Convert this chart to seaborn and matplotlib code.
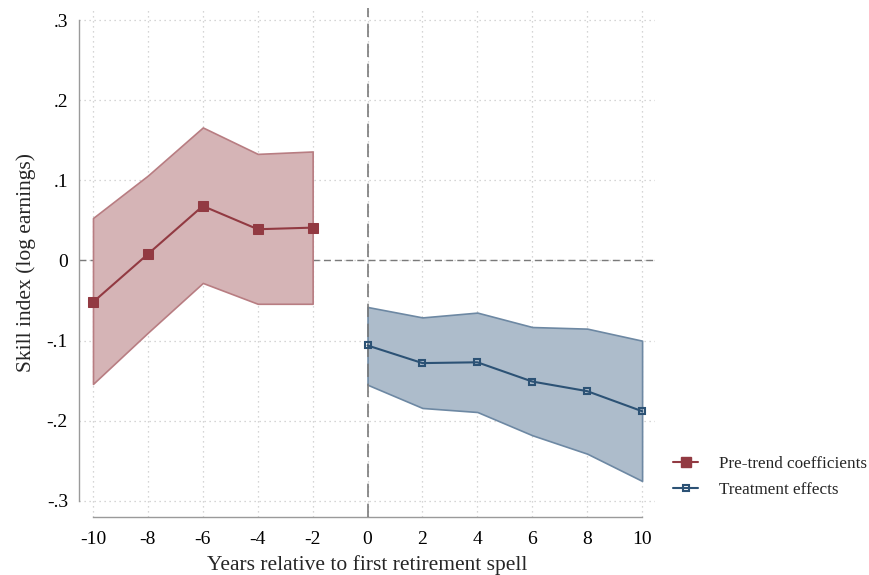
import numpy as np
import pandas as pd
import seaborn as sns
import matplotlib.pyplot as plt
from matplotlib.lines import Line2D

# Datos (estudio de eventos)
anios_pre = [-10, -8, -6, -4, -2]
coef_pre = [-0.052, 0.008, 0.068, 0.039, 0.041]
sup_pre = [0.053, 0.106, 0.166, 0.133, 0.136]
inf_pre = [-0.154, -0.090, -0.028, -0.054, -0.054]

anios_post = [0, 2, 4, 6, 8, 10]
coef_post = [-0.106, -0.128, -0.127, -0.151, -0.163, -0.188]
sup_post = [-0.058, -0.071, -0.065, -0.083, -0.085, -0.100]
inf_post = [-0.155, -0.184, -0.189, -0.218, -0.241, -0.275]

xticks = list(range(-10, 11, 2))
yticks = [-0.3, -0.2, -0.1, 0.0, 0.1, 0.2, 0.3]
ylabels = ["-.3", "-.2", "-.1", "0", ".1", ".2", ".3"]

rojo = "#923a42"
rojo_fill = "#d5b4b6"
azul = "#2c5275"
azul_fill = "#adbccb"
gris = "#9a9a9a"

df_pre = pd.DataFrame({"anio": anios_pre, "coef": coef_pre})
df_post = pd.DataFrame({"anio": anios_post, "coef": coef_post})

sns.set_style("white")
plt.rcParams["font.family"] = ["Liberation Serif", "DejaVu Serif"]

fig = plt.figure(figsize=(8.7, 5.75), dpi=100)
ax = fig.add_axes([79 / 870, 1 - 517 / 575, (655 - 79) / 870, (517 - 8) / 575])

# Bandas de confianza
ax.fill_between(anios_pre, inf_pre, sup_pre, facecolor=rojo_fill, edgecolor="#b87d82", linewidth=1.2, zorder=2)
ax.fill_between(anios_post, inf_post, sup_post, facecolor=azul_fill, edgecolor="#6d88a3", linewidth=1.2, zorder=2)

# Líneas de referencia
ax.axhline(0, color="#7a7a7a", linestyle=(0, (5, 3)), linewidth=1.0, zorder=1)
ax.axvline(0, color="#7a7a7a", linestyle=(0, (8, 4)), linewidth=1.2, zorder=3)

# Coeficientes
sns.lineplot(data=df_pre, x="anio", y="coef", ax=ax, color=rojo, marker="s", markersize=7.3,
             markeredgecolor=rojo, linewidth=1.5, zorder=4)
sns.lineplot(data=df_post, x="anio", y="coef", ax=ax, color=azul, marker="s", markersize=5,
             markerfacecolor="none", markeredgecolor=azul, markeredgewidth=1.5, linewidth=1.5, zorder=4)

ax.set_xlim(-10.51, 10.47)
ax.set_ylim(-0.32, 0.315)
ax.set_xticks(xticks)
ax.set_xticklabels([str(t) for t in xticks])
ax.set_yticks(yticks)
ax.set_yticklabels(ylabels)

ax.grid(True, linestyle=(0, (1, 3)), color="#c8c8c8", linewidth=0.9)
ax.set_axisbelow(True)

for s in ["top", "right"]:
    ax.spines[s].set_visible(False)
ax.spines["left"].set_bounds(-0.3, 0.3)
ax.spines["bottom"].set_bounds(-10, 10)
for s in ["left", "bottom"]:
    ax.spines[s].set_color(gris)
    ax.spines[s].set_linewidth(1.0)
ax.tick_params(axis="both", direction="out", length=5, width=1.0, color=gris, labelsize=14, labelcolor="black")
ax.tick_params(axis="x", pad=5)
ax.tick_params(axis="y", pad=3)

ax.set_xlabel("Years relative to first retirement spell", fontsize=15.5, labelpad=5)
ax.set_ylabel("Skill index (log earnings)", fontsize=15.5, labelpad=8)

handles = [
    Line2D([], [], color=rojo, marker="s", markersize=7.3, linewidth=1.5),
    Line2D([], [], color=azul, marker="s", markersize=5, markerfacecolor="none", markeredgewidth=1.5, linewidth=1.5),
]
fig.legend(handles, ["Pre-trend coefficients", "Treatment effects"], loc="center left",
           bbox_to_anchor=(658 / 870, 1 - 477 / 575), frameon=False, fontsize=12.3,
           handlelength=1.45, handletextpad=1.25, labelspacing=0.55)

plt.savefig("out.png", dpi=100)
